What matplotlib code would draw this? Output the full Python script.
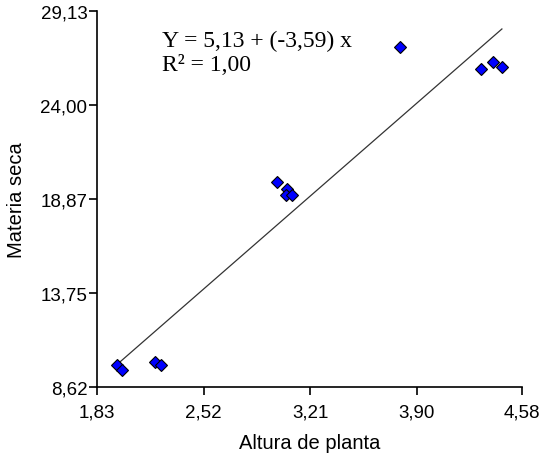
import matplotlib
matplotlib.use("Agg")
import matplotlib.pyplot as plt

# datos
altura = [1.96, 1.99, 2.205, 2.244, 2.995, 3.06, 3.05, 3.09, 3.79, 4.313, 4.395, 4.453]
materia = [9.82, 9.55, 9.98, 9.82, 19.8, 19.42, 19.12, 19.1, 27.15, 25.95, 26.35, 26.06]

# recta ajustada (extremos)
recta_x = [1.96, 4.45]
recta_y = [9.85, 28.15]

xticks = [1.83, 2.52, 3.21, 3.90, 4.58]
yticks = [8.62, 13.75, 18.87, 24.00, 29.13]

fig = plt.figure(figsize=(5.44, 4.56), dpi=100)
ax = fig.add_axes([97/544, 1-388/456, 425/544, 376/456])

ax.plot(recta_x, recta_y, color="#333333", lw=0.9)
ax.plot(altura, materia, "D", color="#0000ff", mec="black", mew=0.8, ms=6.5, ls="none")

ax.set_xlim(xticks[0], xticks[-1])
ax.set_ylim(yticks[0], yticks[-1])
ax.set_xticks(xticks)
ax.set_yticks(yticks)
ax.set_xticklabels([f"{v:.2f}".replace(".", ",") for v in xticks])
ax.set_yticklabels([f"{v:.2f}".replace(".", ",") for v in yticks])
ax.spines["top"].set_visible(False)
ax.spines["right"].set_visible(False)
for s in ["left", "bottom"]:
    ax.spines[s].set_linewidth(1.2)
ax.tick_params(axis="x", length=6, width=1.2, labelsize=13.5, pad=6)
ax.tick_params(axis="y", length=6, width=1.2, labelsize=13.5, pad=1)
for lab in ax.get_xticklabels() + ax.get_yticklabels():
    lab.set_family("Liberation Sans")

ax.set_xlabel("Altura de planta", family="Liberation Sans", fontsize=14.5, labelpad=9)
ax.set_ylabel("Materia seca", family="Liberation Sans", fontsize=14.5, labelpad=10)

fig.text(162/544, 1-47/456, "Y = 5,13 + (-3,59) x", family="Liberation Serif",
         fontsize=17, va="baseline", ha="left")
fig.text(162/544, 1-71/456, "R² = 1,00", family="Liberation Serif",
         fontsize=17, va="baseline", ha="left")

fig.savefig("out.png", dpi=100)
